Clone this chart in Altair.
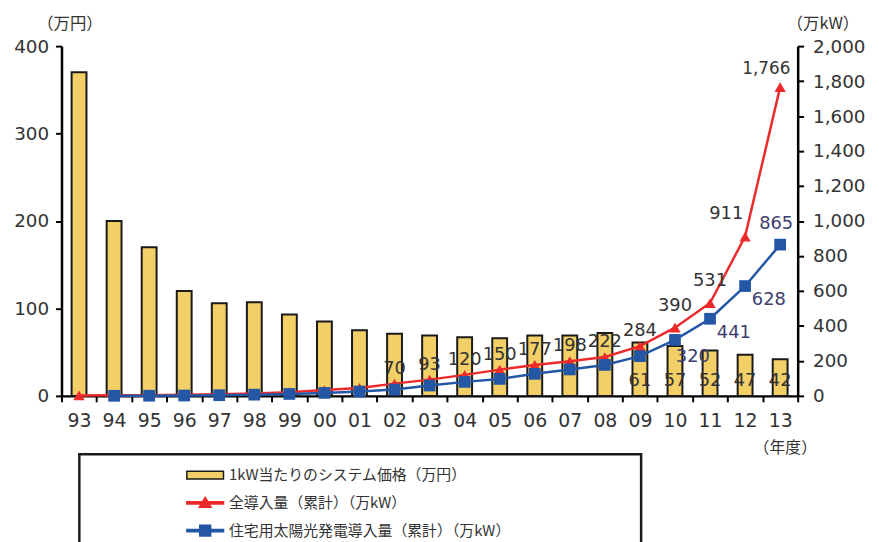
import altair as alt
import pandas as pd

years = ["93", "94", "95", "96", "97", "98", "99", "00", "01", "02", "03",
         "04", "05", "06", "07", "08", "09", "10", "11", "12", "13"]
price = [370, 200, 170, 120, 106, 107, 93, 85, 75, 71, 69,
         67, 66, 69, 69, 72, 61, 57, 52, 47, 42]
total = [2.4, 3.1, 4.3, 6, 9, 13, 21, 33, 45, 70, 93,
         120, 150, 177, 198, 222, 284, 390, 531, 911, 1766]
resid = [None, 0.5, 1, 2, 4, 7, 11, 17, 25, 36, 59,
         80, 97, 126, 151, 177, 227, 320, 441, 628, 865]

series_names = ["1kW当たりのシステム価格（万円）",
                "全導入量（累計）（万kW）",
                "住宅用太陽光発電導入量（累計）（万kW）"]

price_label_years = ["09", "10", "11", "12", "13"]
total_label_years = ["02", "03", "04", "05", "06", "07", "08", "09", "10", "11", "12", "13"]
resid_label_years = ["10", "11", "12", "13"]

df = pd.DataFrame({"year": years, "price": price, "total": total, "resid": resid})
df["base"] = 0

FONT = "Noto Sans CJK JP"
NUM = "DejaVu Sans"
TXT = "#333333"
RED = "#EC2A2B"
BLUE = "#2357A6"
YEL = "#F3D067"
NAVY = "#3D3D6E"

x_axis = alt.Axis(title="（年度）", labelAngle=0, tickBand="extent", tickSize=6,
                  tickWidth=2, tickColor="black", domainColor="black", domainWidth=2.5,
                  labelFont=NUM, labelFontSize=19, labelColor=TXT, labelPadding=10,
                  titleFont=FONT, titleFontSize=16, titleFontWeight="normal", titleColor=TXT,
                  titleX=730, titleY=52, titleAlign="center", titleBaseline="middle",
                  grid=False)
xenc = alt.X("year:N", sort=years, scale=alt.Scale(paddingInner=0, paddingOuter=0), axis=x_axis)

left_axis = alt.Axis(values=[0, 100, 200, 300, 400], title="（万円）", titleAngle=0,
                     titleX=8, titleY=-23, titleAlign="center", titleBaseline="middle",
                     titleFont=FONT, titleFontSize=16.5, titleFontWeight="normal", titleColor=TXT,
                     labelFont=NUM, labelFontSize=18.5, labelColor=TXT, labelPadding=7,
                     tickSize=6, tickWidth=2, tickColor="black",
                     domainColor="black", domainWidth=2.5, grid=False)
left_scale = alt.Scale(domain=[0, 400], nice=False, zero=True)

right_axis = alt.Axis(orient="right", values=list(range(0, 2001, 200)), format=",d",
                      title="（万kW）", titleAngle=0,
                      titleX=25, titleY=-23, titleAlign="center", titleBaseline="middle",
                      titleFont=FONT, titleFontSize=16.5, titleFontWeight="normal", titleColor=TXT,
                      labelFont=NUM, labelFontSize=18.5, labelColor=TXT, labelPadding=9,
                      tickSize=6, tickWidth=2, tickColor="black",
                      domainColor="black", domainWidth=2.5, grid=False)
right_scale = alt.Scale(domain=[0, 2000], nice=False)

base = alt.Chart(df)

bars = base.mark_bar(size=15, fill=YEL, stroke="#1a1a1a", strokeWidth=2).encode(
    x=xenc, y=alt.Y("price:Q", scale=left_scale, axis=left_axis))

price_labels = base.mark_text(font=NUM, fontSize=18, color=TXT, dy=-15).encode(
    x=xenc, y=alt.Y("base:Q", scale=left_scale, axis=left_axis),
    text=alt.Text("price:Q")
).transform_filter(alt.FieldOneOfPredicate(field="year", oneOf=price_label_years))

left = alt.layer(bars, price_labels)

yr = alt.Y("total:Q", scale=right_scale, axis=right_axis)
yb = alt.Y("resid:Q", scale=right_scale, axis=right_axis)

red_line = base.mark_line(color=RED, strokeWidth=2.5).encode(x=xenc, y=yr)
red_pts = base.mark_point(shape="triangle-up", filled=True, size=130, color=RED, opacity=1).encode(x=xenc, y=yr)

resid_df = base.transform_filter("isValid(datum.resid)")
blue_line = resid_df.mark_line(color=BLUE, strokeWidth=2.5).encode(x=xenc, y=yb)
blue_pts = resid_df.mark_point(shape="square", filled=True, size=140, color=BLUE, opacity=1).encode(x=xenc, y=yb)


def labels(field, yrs, color, dx, dy, size=18):
    y = alt.Y(f"{field}:Q", scale=right_scale, axis=right_axis)
    return base.mark_text(font=NUM, fontSize=size, color=color, dx=dx, dy=dy).encode(
        x=xenc, y=y, text=alt.Text(f"{field}:Q", format=",d")
    ).transform_filter(alt.FieldOneOfPredicate(field="year", oneOf=yrs))


red_lab = [
    labels("total", total_label_years[:8], TXT, 0, -15),
    labels("total", total_label_years[8:10], TXT, 0, -22),
    labels("total", total_label_years[10:11], TXT, -19, -23),
    labels("total", total_label_years[11:12], TXT, -14, -18, 17),
]
blue_lab = [
    labels("resid", resid_label_years[0:1], NAVY, 18, 17),
    labels("resid", resid_label_years[1:3], NAVY, 24, 14),
    labels("resid", resid_label_years[3:4], NAVY, -4, -21),
]

sym_bar = "M-1.85,-0.4H1.85V0.4H-1.85Z"
sym_red = "M-1.85,-0.12H1.85V0.12H-1.85Z M0,-0.55L0.6,0.45L-0.6,0.45Z"
sym_blue = "M-1.85,-0.12H1.85V0.12H-1.85Z M-0.55,-0.55H0.55V0.55H-0.55Z"

leg = alt.Legend(title=None, orient="none", legendX=134, legendY=422, padding=0,
                 labelFont=FONT, labelFontSize=15, labelColor=TXT, labelLimit=600,
                 labelOffset=13, rowPadding=9, symbolSize=400)

legend_layer = alt.Chart(pd.DataFrame({"series": series_names})).mark_point(
    filled=True, size=400, strokeWidth=1.5, opacity=1
).encode(
    fill=alt.Fill("series:N", scale=alt.Scale(domain=series_names, range=[YEL, RED, BLUE]), legend=leg),
    stroke=alt.Stroke("series:N", scale=alt.Scale(domain=series_names, range=["#1a1a1a", RED, BLUE]), legend=leg),
    shape=alt.Shape("series:N", scale=alt.Scale(domain=series_names, range=[sym_bar, sym_red, sym_blue]), legend=leg),
).transform_filter("false")

right = alt.layer(red_line, red_pts, blue_line, blue_pts, *red_lab, *blue_lab, legend_layer)

box = alt.Chart(pd.DataFrame({"a": [0]})).mark_rect(
    fill="transparent", stroke="#1a1a1a", strokeWidth=2.5
).encode(x=alt.value(18), x2=alt.value(585), y=alt.value(412), y2=alt.value(520))

chart = alt.layer(left, right, box).resolve_scale(y="independent").properties(
    width=743, height=353,
    padding={"left": 54, "top": 36, "right": 74, "bottom": 145},
    autosize=alt.AutoSizeParams(type="none"),
).configure_view(stroke=None)

chart.save("out.html", embed_options={"renderer": "svg", "actions": False})
